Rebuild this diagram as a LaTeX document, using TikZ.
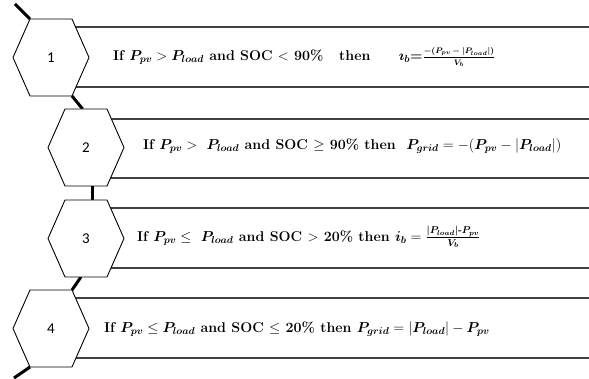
\documentclass[tikz,border=0pt]{standalone}
\usepackage{amsmath,amssymb,bm}
\usepackage{fontspec}
\newfontfamily\numfont{Carlito}
\usetikzlibrary{calc}
\tikzset{
  rowline/.style={draw=black!75, line width=1.4pt},
  hexa/.style={draw=black, line width=0.9pt, fill=white, line join=miter},
  link/.style={draw=black, line width=3pt},
  hexnum/.style={font=\numfont\fontsize{15}{18}\selectfont},
  cond/.style={anchor=west, inner sep=0pt, font=\bfseries\fontsize{14.2}{17}\selectfont}
}
\newcommand{\hexshape}[3]{% name, cx, cy
  \coordinate (#1) at (#2,#3);
  \coordinate (#1-tl) at ($(#1)+(-21,-38.5)$);
  \coordinate (#1-tr) at ($(#1)+(21,-38.5)$);
  \coordinate (#1-r) at ($(#1)+(38,0)$);
  \coordinate (#1-br) at ($(#1)+(21,38.5)$);
  \coordinate (#1-bl) at ($(#1)+(-21,38.5)$);
  \coordinate (#1-l) at ($(#1)+(-38,0)$);
}
\newcommand{\smallpart}[1]{\text{\fontsize{8.5}{10}\selectfont$\bm{#1}$}}
\begin{document}
\begin{tikzpicture}[x=1pt,y=-1pt]
\useasboundingbox (0,0) rectangle (589,379);
% hexagon geometry
\hexshape{h1}{51}{57.5}
\hexshape{h2}{86}{147.5}
\hexshape{h3}{86}{238.5}
\hexshape{h4}{51}{328.5}
% rows
\draw[rowline] (h1) ++(0,-30.5) -- (589,27);
\draw[rowline] (h1) ++(0,29.5) -- (589,87);
\draw[rowline] (h2) ++(0,-28.5) -- (589,119);
\draw[rowline] (h2) ++(0,30.5) -- (589,178);
\draw[rowline] (h3) ++(0,-30.5) -- (589,208);
\draw[rowline] (h3) ++(0,29.5) -- (589,268);
\draw[rowline] (h4) ++(0,-30.5) -- (589,298);
\draw[rowline] (h4) ++(0,29.5) -- (589,358);
% connectors
\coordinate (start) at (15,4);
\coordinate (stop) at (14,378);
\draw[link] (start) -- (h1-tl);
\draw[link] (h1-br) -- ($(h2-tl)!0.42!(h2-tr)$);
\draw[link] ($(h2-bl)!0.66!(h2-br)$) -- ($(h3-tl)!0.66!(h3-tr)$);
\draw[link] ($(h3-bl)!0.38!(h3-br)$) -- (h4-tr);
\draw[link] (h4-bl) -- (stop);
% hexagons
\foreach \h/\n in {h1/1,h2/2,h3/3,h4/4}{
  \draw[hexa] (\h-tl) -- (\h-tr) -- (\h-r) -- (\h-br) -- (\h-bl) -- (\h-l) -- cycle;
  \node[hexnum] (\h-num) at (\h) {\n};
}
% conditions
\node[cond] (c1) at (113,57.5) {If $\bm{P_{pv}} > \bm{P_{load}}$\ and SOC $<$ 90\%\hspace{1.1em}then\hspace{2em}$\bm{\imath_b}$=$\frac{\smallpart{-(P_{pv}-|P_{load}|)}}{\smallpart{V_b}}$};
\node[cond] (c2) at (143,146) {If $\bm{P_{pv}} >\ \bm{P_{load}}$ and SOC $\geq$ 90\%\ then\ \ $\bm{P_{grid}} = -(\bm{P_{pv}} - |\bm{P_{load}}|)$};
\node[cond] (c3) at (137,237) {If $\bm{P_{pv}} \leq\ \bm{P_{load}}$ and SOC $>$ 20\% then $\bm{i_b} = \frac{\bm{|P_{load}|\text{-}P_{pv}}}{\bm{V_b}}$};
\node[cond] (c4) at (104,329) {If $\bm{P_{pv}} \leq \bm{P_{load}}$ and SOC $\leq$ 20\% then $\bm{P_{grid}} = |\bm{P_{load}}| - \bm{P_{pv}}$};
\end{tikzpicture}
\end{document}
